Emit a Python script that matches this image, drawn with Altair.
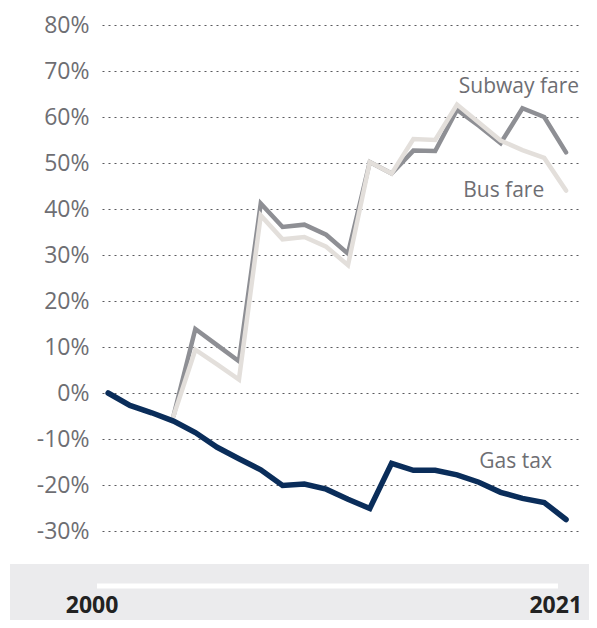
import altair as alt
import pandas as pd

# ---- data ----
years = list(range(2000, 2022))
gas_tax = [0, -2.7, -4.3, -6.1, -8.6, -11.8, -14.3, -16.7, -20.1, -19.8, -20.9,
           -23.1, -25.1, -15.3, -16.8, -16.8, -17.8, -19.4, -21.6, -22.9, -23.8, -27.5]
fare_years = list(range(2003, 2022))
subway_fare = [-5.0, 13.9, 10.4, 6.9, 41.2, 36.1, 36.6, 34.4, 30.3, 50.2, 47.7,
               52.7, 52.6, 61.6, 58.1, 54.3, 61.9, 60.0, 52.3]
bus_fare = [-5.0, 9.4, 6.2, 2.9, 38.6, 33.4, 33.9, 31.8, 27.8, 50.2, 47.7,
            55.2, 55.0, 62.7, 58.8, 54.9, 52.8, 51.1, 44.0]
y_ticks = [-30, -20, -10, 0, 10, 20, 30, 40, 50, 60, 70, 80]
year_labels = [2000, 2021]
series_names = ["Subway fare", "Bus fare", "Gas tax"]

# annotation anchors (data units)
ann_x = [2021.6, 2020.0, 2020.35]
ann_y = [65.3, 42.7, -16.4]

FONT = "Open Sans"
GRAY_TXT = "#6e6e73"

gas_df = pd.DataFrame({"year": years, "value": gas_tax})
sub_df = pd.DataFrame({"year": fare_years, "value": subway_fare})
bus_df = pd.DataFrame({"year": fare_years, "value": bus_fare})
ann_df = pd.DataFrame({"label": series_names, "x": ann_x, "y": ann_y})
yl_df = pd.DataFrame({"year": year_labels, "label": [str(y) for y in year_labels]})
one = pd.DataFrame({"a": [0]})

xscale = alt.Scale(domain=[1999.72, 2021.64], nice=False, zero=False)
yscale = alt.Scale(domain=[-30, 80], nice=False)

x_enc = alt.X("year:Q", scale=xscale, axis=None)
y_enc = alt.Y("value:Q", scale=yscale, title=None,
              axis=alt.Axis(values=y_ticks, labelExpr="datum.value + '%'",
                            domain=False, ticks=False, grid=True,
                            gridColor="#5a5a5e", gridDash=[2, 4], gridWidth=1,
                            labelFont=FONT, labelFontSize=23, labelColor=GRAY_TXT,
                            labelPadding=13))

base_line = lambda df, color, w: alt.Chart(df).mark_line(
    color=color, strokeWidth=w, strokeCap="round").encode(x=x_enc, y=y_enc)

band = alt.Chart(one).mark_rect(color="#ebebed").encode(
    x=alt.value(-92), x2=alt.value(487), y=alt.value(539), y2=alt.value(595))
white_rule = alt.Chart(one).mark_rule(color="white", strokeWidth=5).encode(
    x=alt.value(-5), x2=alt.value(456), y=alt.value(561))

subway = base_line(sub_df, "#8e8f94", 4.5)
bus = base_line(bus_df, "#e3dfdb", 4.5)
gas = base_line(gas_df, "#0a2d5a", 5.5)

ann = alt.Chart(ann_df).mark_text(
    align="right", baseline="alphabetic", font=FONT, fontSize=21, color=GRAY_TXT
).encode(x=alt.X("x:Q", scale=xscale), y=alt.Y("y:Q", scale=yscale), text="label:N")

yl_first = alt.Chart(yl_df).transform_filter("datum.year == 2000").mark_text(
    align="center", baseline="alphabetic", font=FONT, fontSize=23,
    fontWeight="bold", color="#222222", dx=-16
).encode(x=alt.X("year:Q", scale=xscale), y=alt.value(588), text="label:N")
yl_last = alt.Chart(yl_df).transform_filter("datum.year == 2021").mark_text(
    align="right", baseline="alphabetic", font=FONT, fontSize=23,
    fontWeight="bold", color="#222222", dx=16
).encode(x=alt.X("year:Q", scale=xscale), y=alt.value(588), text="label:N")

chart = alt.layer(band, white_rule, subway, bus, gas, ann, yl_first, yl_last).properties(
    width=478, height=506,
    padding={"left": 94, "top": 17, "right": 9, "bottom": 89},
    autosize=alt.AutoSizeParams(type="none"),
).configure_view(stroke="transparent")

chart.save("out.html", embed_options={"renderer": "svg", "actions": False})
